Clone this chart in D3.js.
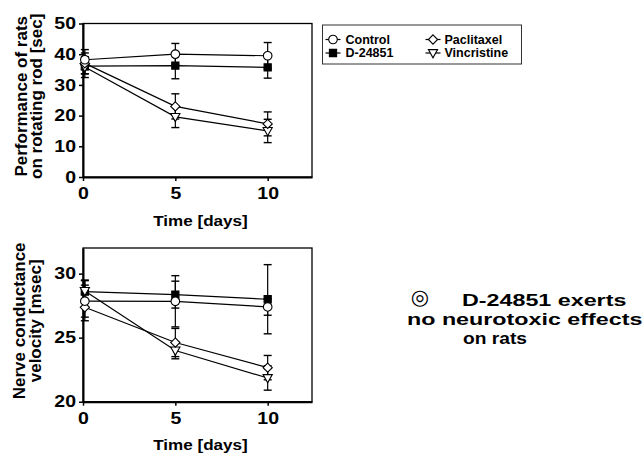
<!DOCTYPE html>
<html>
<head>
<meta charset="utf-8">
<script src="https://cdn.jsdelivr.net/npm/d3@7"></script>
<style>
  body { margin: 0; background: #fff; }
  svg text { font-family: 'Liberation Sans', Arial, Helvetica, sans-serif; font-weight: bold; fill: #000; }
</style>
</head>
<body>
<svg id="chart" width="643" height="455"></svg>
<script>
// days of measurement (day 0 points sit a hair right of the axis)
const days = [0.1, 5, 10];
const dayTicks = [0, 5, 10];

// rotating rod performance [sec]
const rodTicks = [0, 10, 20, 30, 40, 50];
const rodControl = [38.2, 40.0, 39.5];
const rodControlErr = [3.3, 3.5, 4.3];
const rodD24851 = [36.1, 36.3, 35.7];
const rodD24851Err = [2.5, 4.3, 3.5];
const rodPaclitaxel = [37.0, 23.0, 17.3];
const rodPaclitaxelErr = [3.4, 4.1, 3.9];
const rodVincristine = [35.8, 19.6, 15.0];
const rodVincristineErr = [3.4, 3.5, 3.8];

// nerve conductance velocity [msec]
const ncvTicks = [20, 25, 30];
const ncvControl = [27.85, 27.84, 27.4];
const ncvControlErr = [1.25, 2.0, 0.65];
const ncvD24851 = [28.6, 28.36, 28.0];
const ncvD24851Err = [0.9, 1.05, 2.7];
const ncvPaclitaxel = [27.37, 24.62, 22.66];
const ncvPaclitaxelErr = [1.05, 1.1, 0.95];
const ncvVincristine = [28.65, 24.0, 21.85];
const ncvVincristineErr = [0.8, 0.65, 0.95];

const legendNames = ['Control', 'D-24851', 'Paclitaxel', 'Vincristine'];
const noteLines = ['D-24851 exerts', 'no neurotoxic effects', 'on rats'];

const svg = d3.select('#chart');
const stretch = 1.22; // the scanned figure is a bit wider than tall

function markerPath(kind) {
  const p = d3.path();
  if (kind === 'circle') {
    p.arc(0, 0, 4.3, 0, 2 * Math.PI);
  } else if (kind === 'square') {
    p.rect(-3.6, -3.6, 7.2, 7.2);
  } else if (kind === 'diamond') {
    p.moveTo(0, -4.6); p.lineTo(4.6, 0); p.lineTo(0, 4.6); p.lineTo(-4.6, 0); p.closePath();
  } else {
    p.moveTo(-4.6, -3.4); p.lineTo(4.6, -3.4); p.lineTo(0, 4.8); p.closePath();
  }
  return p.toString();
}

const styles = {
  'Control': { kind: 'circle', fill: '#fff' },
  'D-24851': { kind: 'square', fill: '#000' },
  'Paclitaxel': { kind: 'diamond', fill: '#fff' },
  'Vincristine': { kind: 'triangle', fill: '#fff' },
};

function drawMarker(g, name, x, y) {
  const s = styles[name];
  g.append('path')
    .attr('d', markerPath(s.kind))
    .attr('transform', `translate(${x},${y})`)
    .attr('fill', s.fill)
    .attr('stroke', '#000')
    .attr('stroke-width', 1.1);
}

function stretchedText(g, x, y, str, size, anchor, sx) {
  return g.append('text')
    .attr('transform', `translate(${x},${y}) scale(${sx || stretch},1)`)
    .attr('text-anchor', anchor || 'middle')
    .style('font-size', `${size}px`)
    .text(str);
}

function drawPanel(opts) {
  const width = 229;
  const g = svg.append('g').attr('transform', `translate(83,${opts.top})`);

  const x = d3.scaleLinear().domain([0, 12.4]).range([0, width]);
  const y = d3.scaleLinear().domain(opts.yDomain).range([opts.height, 0]);

  g.append('rect')
    .attr('width', width)
    .attr('height', opts.height)
    .attr('fill', 'none')
    .attr('stroke', '#000')
    .attr('stroke-width', 1.3);

  const axisY = g.append('g')
    .call(d3.axisLeft(y).tickValues(opts.yTicks).tickSize(4).tickSizeOuter(0).tickPadding(3));
  const axisX = g.append('g')
    .attr('transform', `translate(0,${opts.height})`)
    .call(d3.axisBottom(x).tickValues(dayTicks).tickSize(4).tickSizeOuter(0).tickPadding(6.5));

  [axisY, axisX].forEach((a) => {
    a.select('.domain').attr('stroke-width', 2);
    a.selectAll('.tick line').attr('stroke-width', 1.5);
    a.selectAll('text').style('font-size', '16px')
      .attr('transform', `scale(${stretch},1)`);
  });
  axisY.selectAll('text').attr('x', -7 / stretch);

  const line = d3.line()
    .x((d, i) => x(days[i]))
    .y(d => y(d));

  opts.series.forEach((s) => {
    g.append('path')
      .attr('d', line(s.values))
      .attr('fill', 'none')
      .attr('stroke', '#000')
      .attr('stroke-width', 1.2);
  });

  opts.series.forEach((s) => {
    s.values.forEach((v, i) => {
      const cx = x(days[i]);
      const lo = y(v - s.err[i]);
      const hi = y(v + s.err[i]);
      g.append('line')
        .attr('x1', cx).attr('x2', cx).attr('y1', lo).attr('y2', hi)
        .attr('stroke', '#000').attr('stroke-width', 1.2);
      [lo, hi].forEach((cy) => {
        g.append('line')
          .attr('x1', cx - 4).attr('x2', cx + 4).attr('y1', cy).attr('y2', cy)
          .attr('stroke', '#000').attr('stroke-width', 1.4);
      });
    });
  });

  // draw order: filled square first, open circle last (sits on top)
  ['D-24851', 'Vincristine', 'Paclitaxel', 'Control'].forEach((name) => {
    const s = opts.series.find(d => d.name === name);
    s.values.forEach((v, i) => drawMarker(g, name, x(days[i]), y(v)));
  });

  stretchedText(g, width / 2 + 3, opts.height + 48.5, 'Time [days]', 14);

  opts.yLabel.forEach((str, i) => {
    g.append('text')
      .attr('transform', `translate(${opts.yLabelX[i] - 83},${opts.height / 2 - 4}) rotate(-90)`)
      .attr('text-anchor', 'middle')
      .style('font-size', '17px')
      .text(str);
  });
}

drawPanel({
  top: 23.5,
  height: 153.5,
  yDomain: [0, 50],
  yTicks: rodTicks,
  yLabel: ['Performance of rats', 'on rotating rod [sec]'],
  yLabelX: [27, 42],
  series: [
    { name: 'Control', values: rodControl, err: rodControlErr },
    { name: 'D-24851', values: rodD24851, err: rodD24851Err },
    { name: 'Paclitaxel', values: rodPaclitaxel, err: rodPaclitaxelErr },
    { name: 'Vincristine', values: rodVincristine, err: rodVincristineErr },
  ],
});

drawPanel({
  top: 248,
  height: 153.7,
  yDomain: [20, 32],
  yTicks: ncvTicks,
  yLabel: ['Nerve conductance', 'velocity [msec]'],
  yLabelX: [25, 41],
  series: [
    { name: 'Control', values: ncvControl, err: ncvControlErr },
    { name: 'D-24851', values: ncvD24851, err: ncvD24851Err },
    { name: 'Paclitaxel', values: ncvPaclitaxel, err: ncvPaclitaxelErr },
    { name: 'Vincristine', values: ncvVincristine, err: ncvVincristineErr },
  ],
});

// legend
const legend = svg.append('g').attr('transform', 'translate(322.5,25)');
legend.append('rect')
  .attr('width', 199)
  .attr('height', 39)
  .attr('fill', '#fff')
  .attr('stroke', '#333')
  .attr('stroke-width', 1);

legendNames.forEach((name, i) => {
  const col = Math.floor(i / 2);
  const row = i % 2;
  const lx = 3 + col * 100;
  const ly = 14.5 + row * 13.5;
  legend.append('line')
    .attr('x1', lx).attr('x2', lx + 15).attr('y1', ly).attr('y2', ly)
    .attr('stroke', '#000').attr('stroke-width', 1.2);
  drawMarker(legend, name, lx + 7.5, ly);
  legend.append('text')
    .attr('x', lx + 20 - col)
    .attr('y', ly + 4.3)
    .style('font-size', '12.5px')
    .text(name);
});

// conclusion note
const note = svg.append('g');
note.append('text')
  .attr('x', 420)
  .attr('y', 304)
  .attr('text-anchor', 'middle')
  .style('font-family', "'DejaVu Sans', sans-serif")
  .style('font-size', '21px')
  .text('\u25CE');
stretchedText(note, 462, 305.5, noteLines[0], 17, 'start', 1.37);
stretchedText(note, 407, 324.5, noteLines[1], 17, 'start', 1.37);
stretchedText(note, 463, 343.5, noteLines[2], 17, 'start', 1.13);
</script>
</body>
</html>
